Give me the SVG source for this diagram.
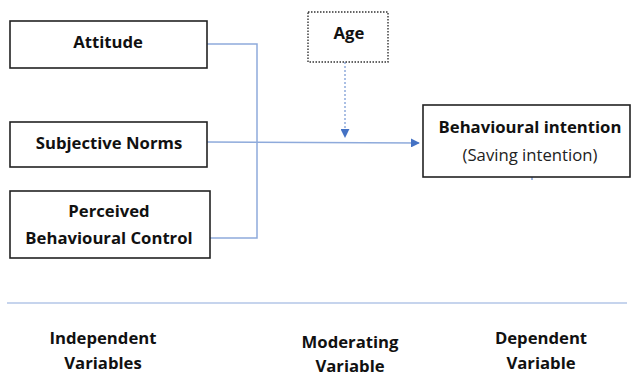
<svg xmlns="http://www.w3.org/2000/svg" width="632" height="378" viewBox="0 0 632 378">
<style>
.box{fill:#fff;stroke:#222;stroke-width:1.6}
.t{font-family:"Open Sans","Liberation Sans",sans-serif;font-weight:bold;font-size:16.7px;fill:#111;text-anchor:middle}
.n{font-family:"Open Sans","Liberation Sans",sans-serif;font-size:16.7px;fill:#222;text-anchor:middle}
.c{fill:none;stroke:#8eaadb;stroke-width:1.5}
</style>
<defs>
<marker id="ah" viewBox="0 0 10 10" refX="9" refY="5" markerWidth="9" markerHeight="9" markerUnits="userSpaceOnUse" orient="auto"><path d="M0,0L10,5L0,10z" fill="#4472c4"/></marker>
</defs>
<g id="connectors">
<path class="c" d="M207,44H257V238H210"/>
<path class="c" d="M207,142L419,143" stroke="#6f8fd0" marker-end="url(#ah)"/>
<path class="c" d="M345,62V137" stroke-dasharray="2,2" marker-end="url(#ah)"/>
<line x1="532" y1="177" x2="532" y2="180" stroke="#4472c4" stroke-width="1"/>
<line x1="7" y1="303" x2="627" y2="303" stroke="#8eaadb" stroke-width="1.2"/>
</g>
<g id="attitude"><rect class="box" x="10" y="21" width="197" height="47"/><text class="t" x="108" y="48">Attitude</text></g>
<g id="subjective-norms"><rect class="box" x="10" y="122" width="197" height="45"/><text class="t" x="109" y="149">Subjective Norms</text></g>
<g id="pbc"><rect class="box" x="10" y="191" width="200" height="67"/><text class="t" x="109" y="217">Perceived</text><text class="t" x="109" y="244">Behavioural Control</text></g>
<g id="age"><rect x="308" y="12" width="80" height="50" fill="#fff" stroke="#333" stroke-width="1.4" stroke-dasharray="1.5,1.5"/><text class="t" x="349" y="39">Age</text></g>
<g id="bi"><rect class="box" x="423" y="105" width="207" height="72"/><text class="t" x="530" y="133">Behavioural intention</text><text class="n" x="530" y="161">(Saving intention)</text></g>
<g id="labels">
<text class="t" x="103" y="344">Independent</text><text class="t" x="103" y="369">Variables</text>
<text class="t" x="350" y="348">Moderating</text><text class="t" x="350" y="372">Variable</text>
<text class="t" x="541" y="344">Dependent</text><text class="t" x="541" y="369">Variable</text>
</g>
</svg>
